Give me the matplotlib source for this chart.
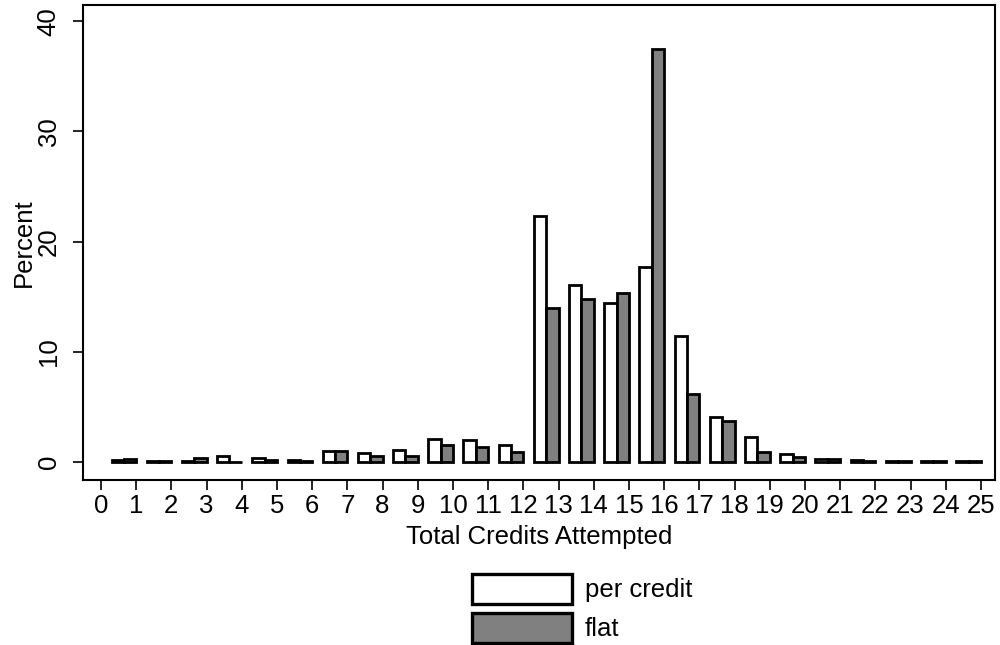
import matplotlib
matplotlib.use("Agg")
import matplotlib.pyplot as plt
import numpy as np
from matplotlib.patches import Patch

plt.rcParams['font.family'] = ['Liberation Sans', 'DejaVu Sans']

credits = list(range(1, 26))
per_credit = [0.15, 0.1, 0.1, 0.55, 0.35, 0.2, 0.95, 0.8, 1.1, 2.1, 1.95, 1.55,
              22.3, 16.05, 14.45, 17.65, 11.4, 4.05, 2.3, 0.72, 0.3, 0.18, 0.1, 0.08, 0.08]
flat = [0.3, 0.1, 0.4, 0.0, 0.2, 0.1, 0.95, 0.55, 0.5, 1.5, 1.35, 0.9,
        14.0, 14.75, 15.3, 37.5, 6.15, 3.7, 0.88, 0.42, 0.25, 0.1, 0.08, 0.08, 0.08]
x_ticks = list(range(0, 26))
y_ticks = [0, 10, 20, 30, 40]

FS = 18.5

fig = plt.figure(figsize=(10, 6.45), dpi=100)
ax = fig.add_axes([0.083, 0.256, 0.912, 0.736])

x = np.array(credits, dtype=float)
w = 0.35
edge = dict(edgecolor='black', linewidth=2.0)
ax.bar(x - 2 * w, per_credit, width=w, align='edge', color='white', **edge, zorder=2)
ax.bar(x - w, flat, width=w, align='edge', color='#808080', **edge, zorder=3)

ax.set_xlim(-0.51, 25.4)
ax.set_ylim(-1.63, 41.45)
ax.set_xticks(x_ticks)
ax.set_yticks(y_ticks)
ax.tick_params(axis='both', labelsize=FS, length=7, width=1.2, direction='out', colors='black')
ax.tick_params(axis='x', pad=3)
ax.tick_params(axis='y', pad=9)
for lab in ax.get_yticklabels():
    lab.set_rotation(90)
    lab.set_va('center')
for s in ax.spines.values():
    s.set_linewidth(1.5)

ax.set_xlabel('Total Credits Attempted', fontsize=FS, labelpad=5)
ax.set_ylabel('Percent', fontsize=FS, labelpad=1)

handles = [Patch(facecolor='white', edgecolor='black', linewidth=2.4, label='per credit'),
           Patch(facecolor='#808080', edgecolor='black', linewidth=2.4, label='flat')]
fig.legend(handles=handles, loc='upper left', bbox_to_anchor=(0.472, 1 - 574 / 645),
           frameon=False, fontsize=FS, handlelength=3.9, handleheight=1.4,
           labelspacing=0.36, handletextpad=0.5, borderpad=0, borderaxespad=0)

fig.savefig('out.png', dpi=100)
